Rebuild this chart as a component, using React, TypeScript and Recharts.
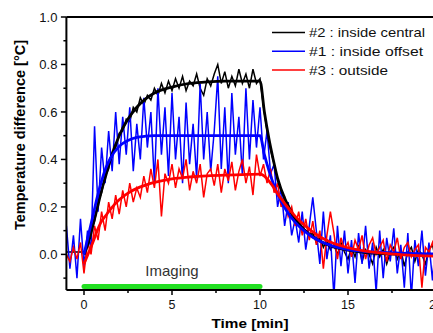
import React from 'react';
import { LineChart, Line, XAxis, YAxis, ReferenceLine, Legend, Customized } from 'recharts';

const times = [-1.0,-0.8,-0.6,-0.4,-0.2,0.0,0.2,0.4,0.6,0.8,
1.0,1.2,1.4,1.6,1.8,2.0,2.2,2.4,2.6,2.8,
3.0,3.2,3.4,3.6,3.8,4.0,4.2,4.4,4.6,4.8,
5.0,5.2,5.4,5.6,5.8,6.0,6.2,6.4,6.6,6.8,
7.0,7.2,7.4,7.6,7.8,8.0,8.2,8.4,8.6,8.8,
9.0,9.2,9.4,9.6,9.8,10.0,10.2,10.4,10.6,10.8,
11.0,11.2,11.4,11.6,11.8,12.0,12.2,12.4,12.6,12.8,
13.0,13.2,13.4,13.6,13.8,14.0,14.2,14.4,14.6,14.8,
15.0,15.2,15.4,15.6,15.8,16.0,16.2,16.4,16.6,16.8,
17.0,17.2,17.4,17.6,17.8,18.0,18.2,18.4,18.6,18.8,
19.0,19.2,19.4,19.6,19.8,20.0,20.2,20.4,20.6,20.8,21.0];

const centralNoisy = [0.01,0.01,0.01,0.01,0.01,0.01,0.05,0.10,0.14,0.22,
0.26,0.33,0.36,0.43,0.45,0.51,0.52,0.57,0.56,0.62,
0.60,0.66,0.63,0.67,0.65,0.70,0.67,0.72,0.68,0.73,
0.69,0.74,0.70,0.75,0.69,0.73,0.71,0.76,0.70,0.67,
0.74,0.71,0.76,0.80,0.72,0.77,0.70,0.75,0.71,0.78,
0.72,0.76,0.70,0.78,0.72,0.74,0.62,0.52,0.44,0.38,
0.31,0.27,0.23,0.21,0.16,0.15,0.13,0.11,0.10,0.08,
0.09,0.05,0.07,0.03,0.06,0.02,0.04,0.00,0.05,0.01,
-0.02,0.03,-0.01,0.04,-0.03,0.02,0.00,-0.04,0.03,-0.01,
0.02,-0.04,0.01,0.03,-0.02,0.02,-0.05,0.01,0.03,-0.03,
0.02,0.00,-0.04,0.02,0.04,-0.03,0.01,-0.04,0.02,0.00,-0.02];

const offsetNoisy = [0.12,-0.06,0.08,-0.10,0.15,-0.05,0.10,0.02,0.54,0.18,
0.45,0.30,0.52,0.35,0.60,0.38,0.58,0.42,0.62,0.35,
0.55,0.40,0.66,0.45,0.60,0.30,0.70,0.42,0.62,0.33,
0.68,0.40,0.58,0.30,0.64,0.38,0.55,0.32,0.72,0.40,
0.60,0.35,0.52,0.75,0.36,0.62,0.30,0.68,0.42,0.58,
0.33,0.70,0.40,0.65,0.45,0.62,0.40,0.52,0.34,0.38,
0.20,0.28,0.12,0.22,0.08,0.15,0.05,0.18,0.02,0.12,
0.24,0.10,-0.04,0.18,-0.02,0.08,-0.18,0.12,-0.05,0.10,
-0.08,0.06,-0.12,0.09,-0.04,0.12,-0.06,0.05,-0.16,0.10,
-0.10,0.07,-0.03,0.11,-0.08,0.04,-0.14,0.09,-0.18,0.06,
-0.05,0.10,-0.09,0.05,-0.11,0.08,-0.04,0.06,-0.08,0.03,-0.02];

const outsideNoisy = [0.00,-0.03,0.03,-0.02,0.05,-0.08,0.05,0.00,0.12,0.06,
0.18,0.10,0.22,0.15,0.25,0.17,0.27,0.20,0.30,0.22,
0.28,0.24,0.33,0.26,0.36,0.28,0.40,0.16,0.34,0.30,
0.38,0.28,0.36,0.32,0.40,0.27,0.35,0.30,0.38,0.24,
0.34,0.36,0.29,0.38,0.26,0.36,0.31,0.39,0.27,0.35,
0.40,0.30,0.37,0.25,0.42,0.33,0.38,0.30,0.36,0.26,
0.30,0.20,0.24,0.16,0.20,0.12,0.18,0.08,0.15,0.06,
0.14,0.04,0.10,-0.06,0.08,0.18,0.09,-0.02,0.07,0.02,
0.05,-0.01,0.06,0.02,0.08,-0.02,0.04,0.07,0.00,0.03,
0.06,-0.03,0.04,0.01,0.07,-0.02,0.03,0.05,-0.01,0.02,
0.04,-0.14,0.03,0.01,0.05,-0.02,0.03,0.00,0.02,-0.01,0.01];

const fitTimes = [0,0.25,0.5,0.75,1,1.25,1.5,2,2.5,3,3.5,4,5,6,7,8,9,10,
10.25,10.5,10.75,11,11.5,12,12.5,13,13.5,14,15,16,17,18,19,20,21];

const centralFit = [0.0,0.05,0.12,0.195,0.27,0.335,0.40,0.50,0.57,0.62,0.655,0.68,0.705,0.72,0.727,0.73,0.73,0.73,
0.60,0.49,0.40,0.32,0.22,0.15,0.105,0.075,0.052,0.036,0.018,0.008,0.003,0.0,-0.002,-0.003,-0.004];

const offsetFit = [0.0,0.08,0.16,0.24,0.31,0.365,0.405,0.455,0.48,0.493,0.498,0.50,0.50,0.50,0.50,0.50,0.50,0.50,
0.42,0.355,0.30,0.255,0.185,0.135,0.10,0.072,0.052,0.038,0.02,0.012,0.008,0.005,0.003,0.002,0.001];

const outsideFit = [-0.04,0.005,0.05,0.10,0.14,0.165,0.19,0.23,0.258,0.278,0.292,0.303,0.318,0.326,0.331,0.334,0.336,0.338,
0.33,0.31,0.285,0.255,0.205,0.16,0.125,0.095,0.07,0.052,0.028,0.014,0.005,-0.001,-0.005,-0.008,-0.01];

const xTicks = [0, 2.5, 5, 7.5, 10, 12.5, 15, 17.5, 20];
const xMajorTicks = [0, 5, 10, 15, 20];
const yTicks = [-0.1, 0, 0.1, 0.2, 0.3, 0.4, 0.5, 0.6, 0.7, 0.8, 0.9, 1.0];
const yMajorTicks = [0, 0.2, 0.4, 0.6, 0.8, 1.0];
const yLabels = ['0.0', '0.2', '0.4', '0.6', '0.8', '1.0'];

const legendItems = [
  { label: '#2 : inside central', color: '#000000', len: 116 },
  { label: '#1 : inside offset', color: '#0000ff', len: 114 },
  { label: '#3 : outside', color: '#ff0000', len: 79 },
];

const imagingStart = 0;
const imagingEnd = 10;
const imagingLevel = -0.135;
const imagingLabel = 'Imaging';

const xTitle = 'Time [min]';
const yTitle = 'Temperature difference [°C]';

const FONT = '"Liberation Sans", Arial, sans-serif';

const noisyRows = times.map((t, i) => ({
  t,
  central: centralNoisy[i],
  offset: offsetNoisy[i],
  outside: outsideNoisy[i],
}));

const fitRows = fitTimes.map((t, i) => ({
  t,
  centralFit: centralFit[i],
  offsetFit: offsetFit[i],
  outsideFit: outsideFit[i],
}));

const XTick = (props: any) => {
  const { x, y, payload } = props;
  const v = payload.value;
  const major = xMajorTicks.indexOf(v) >= 0;
  return (
    <g>
      <line x1={x} x2={x} y1={y} y2={y + (major ? 5 : 3)} stroke="#000" strokeWidth={1.5} />
      {major && (
        <text x={x} y={y + 19} textAnchor="middle" fontSize={12.5} fontFamily={FONT} fill="#111">
          {String(v)}
        </text>
      )}
    </g>
  );
};

const YTick = (props: any) => {
  const { x, y, payload } = props;
  const v = payload.value;
  const idx = yMajorTicks.findIndex((m) => Math.abs(m - v) < 1e-6);
  const major = idx >= 0;
  return (
    <g>
      <line x1={x} x2={x - (major ? 5.5 : 3)} y1={y} y2={y} stroke="#000" strokeWidth={1.5} />
      {major && (
        <text x={x - 9} y={y + 4.6} textAnchor="end" fontSize={13} fontFamily={FONT} fill="#111">
          {yLabels[idx]}
        </text>
      )}
    </g>
  );
};

const Titles = () => (
  <g fontFamily={FONT} fontWeight="bold" fill="#000">
    <text x={250} y={328} textAnchor="middle" fontSize={13.5} textLength={77} lengthAdjust="spacingAndGlyphs">
      {xTitle}
    </text>
    <text
      x={0}
      y={0}
      transform="translate(25,135) rotate(-90)"
      textAnchor="middle"
      fontSize={14.5}
    >
      {yTitle}
    </text>
  </g>
);

const LegendContent = () => (
  <svg width={170} height={60} style={{ display: 'block' }}>
    {legendItems.map((it, i) => {
      const y = 10.5 + i * 18.8;
      return (
        <g key={it.label}>
          <line x1={2} x2={35} y1={y} y2={y} stroke={it.color} strokeWidth={1.5} />
          <text
            x={39}
            y={y + 4.6}
            fontSize={13}
            fontFamily={FONT}
            fill="#111"
            textLength={it.len}
            lengthAdjust="spacingAndGlyphs"
          >
            {it.label}
          </text>
        </g>
      );
    })}
  </svg>
);

export default function App() {
  return (
    <div style={{ position: 'fixed', left: 0, top: 0, width: 433, height: 333, overflow: 'hidden', background: '#fff' }}>
      <LineChart
        width={460}
        height={333}
        data={noisyRows}
        margin={{ top: 17, right: 6.4, bottom: 0, left: 0 }}
      >
        <XAxis
          dataKey="t"
          type="number"
          domain={[-1, 21]}
          ticks={xTicks}
          interval={0}
          allowDataOverflow
          tickSize={0}
          tickMargin={0}
          tickLine={false}
          axisLine={{ stroke: '#000', strokeWidth: 2 }}
          tick={<XTick />}
          height={43}
        />
        <YAxis
          type="number"
          domain={[-0.15, 1.0]}
          ticks={yTicks}
          interval={0}
          allowDataOverflow
          tickSize={0}
          tickMargin={0}
          tickLine={false}
          axisLine={{ stroke: '#000', strokeWidth: 2 }}
          tick={<YTick />}
          width={66.4}
        />
        <ReferenceLine y={1.0} stroke="#000" strokeWidth={2} ifOverflow="visible" />
        <Line dataKey="central" stroke="#000000" strokeWidth={1.5} dot={false} type="linear" isAnimationActive={false} />
        <Line dataKey="offset" stroke="#0000ff" strokeWidth={1.5} dot={false} type="linear" isAnimationActive={false} />
        <Line dataKey="outside" stroke="#ff0000" strokeWidth={1.5} dot={false} type="linear" isAnimationActive={false} />
        <Line data={fitRows} dataKey="centralFit" stroke="#000000" strokeWidth={2.8} dot={false} type="monotone" isAnimationActive={false} />
        <Line data={fitRows} dataKey="offsetFit" stroke="#0000ff" strokeWidth={2.8} dot={false} type="monotone" isAnimationActive={false} />
        <Line data={fitRows} dataKey="outsideFit" stroke="#ff0000" strokeWidth={2.8} dot={false} type="monotone" isAnimationActive={false} />
        <ReferenceLine
          segment={[{ x: imagingStart, y: imagingLevel }, { x: imagingEnd, y: imagingLevel }]}
          stroke="#22e022"
          strokeWidth={5}
          strokeLinecap="round"
          ifOverflow="visible"
          label={{ value: imagingLabel, position: 'top', offset: 10, fontSize: 15, fill: '#333', fontFamily: FONT }}
        />
        <Legend
          layout="vertical"
          align="center"
          verticalAlign="middle"
          content={<LegendContent />}
          wrapperStyle={{ left: 270, top: 22, width: 170, height: 60 }}
        />
        <Customized component={<Titles />} />
      </LineChart>
    </div>
  );
}
